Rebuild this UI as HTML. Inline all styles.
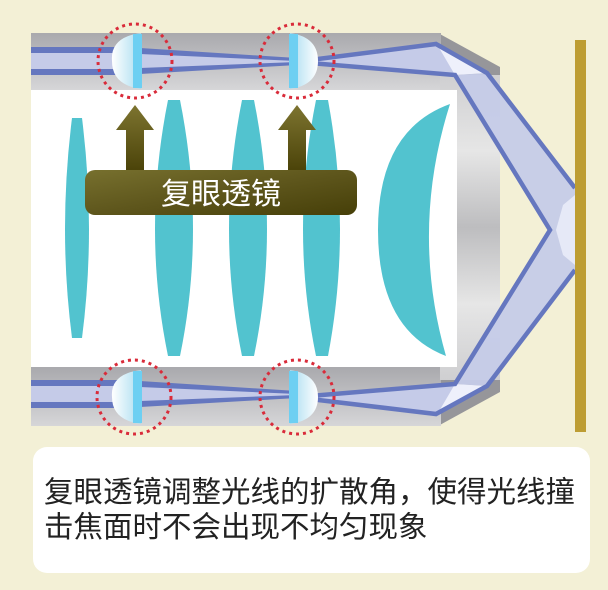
<!DOCTYPE html>
<html><head><meta charset="utf-8"><style>
body{margin:0;width:608px;height:590px;background:#f3f0d6;overflow:hidden;position:relative;font-family:"Liberation Sans","Noto Sans CJK SC",sans-serif}
.box{position:absolute;left:33px;top:447px;width:557px;height:126px;background:#fff;border-radius:14px}
.txt{position:absolute;left:44px;top:475px;font-size:29.5px;line-height:35px;color:#222;white-space:nowrap}
</style></head><body>
<svg width="608" height="590" style="position:absolute;left:0;top:0">
<defs>
<linearGradient id="band" x1="0" y1="0" x2="0" y2="1"><stop offset="0" stop-color="#a9a9ad"/><stop offset="1" stop-color="#d6d6d8"/></linearGradient>
<linearGradient id="side" x1="0" y1="0" x2="0" y2="1"><stop offset="0" stop-color="#cfcfd1"/><stop offset=".25" stop-color="#e6e6e6"/><stop offset=".5" stop-color="#bdbdbf"/><stop offset=".75" stop-color="#e6e6e6"/><stop offset="1" stop-color="#cfcfd1"/></linearGradient>
<linearGradient id="lens" x1="0" y1="0" x2="1" y2="0"><stop offset="0" stop-color="#fff"/><stop offset="1" stop-color="#a8dcf0"/></linearGradient>
<linearGradient id="lensr" x1="1" y1="0" x2="0" y2="0"><stop offset="0" stop-color="#fff"/><stop offset="1" stop-color="#a8dcf0"/></linearGradient>
<linearGradient id="lab" x1="0" y1="0" x2="1" y2="1"><stop offset="0" stop-color="#77702e"/><stop offset=".5" stop-color="#5e561c"/><stop offset="1" stop-color="#463f08"/></linearGradient>
<linearGradient id="arr" x1="0" y1="0" x2="0" y2="1"><stop offset="0" stop-color="#7d7430"/><stop offset="1" stop-color="#4a4208"/></linearGradient>
</defs>
<!-- housing -->
<polygon points="31,33 438,33 500,67 500,392 438,426 31,426" fill="#96969a"/>
<rect x="31" y="33" width="410" height="57" fill="url(#band)"/>
<rect x="31" y="367" width="410" height="59" fill="url(#band)"/>
<rect x="440" y="75" width="60" height="305" fill="url(#side)"/>
<rect x="31" y="90" width="426" height="277" fill="#fff"/>
<!-- lenses cyan -->
<g fill="#52c3cf">
<path d="M72,118 L82,118 Q96,230 82,338 L72,338 Q58,230 72,118Z"/>
<path d="M168,100 L180,100 Q206,230 180,356 L168,356 Q142,230 168,100Z"/>
<path d="M242,100 L254,100 Q280,230 254,356 L242,356 Q216,230 242,100Z"/>
<path d="M316,100 L328,100 Q352,230 328,356 L316,356 Q290,230 316,100Z"/>
<path d="M450,104 Q378,130 378,230 Q378,330 446,356 Q410,230 450,104Z"/>
</g>
<!-- beams -->
<g>
<polygon points="31,50 122,50 297,59 297,63 122,72 31,72" fill="#c5cbe8"/>
<polygon points="31,47 122,47 122,53 31,53" fill="#6577bf"/>
<polygon points="31,69 122,69 122,75 31,75" fill="#6577bf"/>
<polygon points="140,48 297,58 297,61 140,54" fill="#6577bf"/>
<polygon points="140,68 297,62 297,65 140,74" fill="#6577bf"/>
<polygon points="31,383 122,383 297,392 297,396 122,405 31,405" fill="#c5cbe8"/>
<polygon points="31,380 122,380 122,386 31,386" fill="#6577bf"/>
<polygon points="31,402 122,402 122,408 31,408" fill="#6577bf"/>
<polygon points="140,381 297,391 297,394 140,387" fill="#6577bf"/>
<polygon points="140,401 297,395 297,398 140,407" fill="#6577bf"/>
<!-- diverging after lens 2 -->
<polygon points="310,61 435,44 487,73 455,75 310,63" fill="#c5cbe8"/>
<polygon points="310,396 455,384 487,386 435,414 310,398" fill="#c5cbe8"/>
<!-- big diagonal band -->
<polygon points="455,75 487,73 575,188 575,270 487,386 455,384 550,230" fill="#c5cbe8" opacity=".95"/>
<polygon points="438,46 487,73 455,75" fill="#eef0fb"/>
<polygon points="438,413 487,386 455,384" fill="#eef0fb"/>
<polygon points="563,205 575,195 575,265 563,255 556,230" fill="#e6e9f7"/>
<g stroke="#6577bf" stroke-width="4.5" fill="none">
<polyline points="310,60 436,44 487,73 575,188"/>
<polyline points="310,63 455,75 550,230 455,384 310,396"/>
<polyline points="310,399 436,414 487,386 575,270"/>
</g>
</g>
<!-- small lenses -->
<path d="M141,33 Q110,37 112,61 Q112,85 141,89Z" fill="url(#lens)"/>
<rect x="133" y="34" width="9" height="54" fill="#6dcff2"/>
<path d="M290,33 Q318,37 318,61 Q318,85 290,89Z" fill="url(#lensr)"/>
<rect x="289" y="34" width="9" height="54" fill="#6dcff2"/>
<path d="M141,370 Q110,374 112,397 Q112,420 141,424Z" fill="url(#lens)"/>
<rect x="133" y="371" width="9" height="52" fill="#6dcff2"/>
<path d="M290,370 Q318,374 318,397 Q318,420 290,424Z" fill="url(#lensr)"/>
<rect x="289" y="371" width="9" height="52" fill="#6dcff2"/>
<!-- dashed circles -->
<g fill="none" stroke="#d92b3a" stroke-width="3" stroke-dasharray="3,4">
<ellipse cx="135" cy="61" rx="37" ry="37"/>
<ellipse cx="297" cy="61" rx="37" ry="37"/>
<ellipse cx="134" cy="397" rx="37" ry="37"/>
<ellipse cx="297" cy="397" rx="37" ry="37"/>
</g>
<!-- sensor -->
<rect x="575" y="40" width="11" height="392" fill="#bd9d33"/>
<!-- arrows -->
<g fill="url(#arr)">
<polygon points="135,105 154,130 144,130 144,172 126,172 126,130 116,130"/>
<polygon points="297,105 316,130 306,130 306,172 288,172 288,130 278,130"/>
</g>
<rect x="85" y="170" width="272" height="45" rx="10" fill="url(#lab)"/>
<text x="221" y="204" text-anchor="middle" font-size="30" fill="#fff" font-family="Liberation Sans, Noto Sans CJK SC, sans-serif">复眼透镜</text>
</svg>
<div class="box"></div>
<div class="txt">复眼透镜调整光线的扩散角，使得光线撞<br>击焦面时不会出现不均匀现象</div>
</body></html>
